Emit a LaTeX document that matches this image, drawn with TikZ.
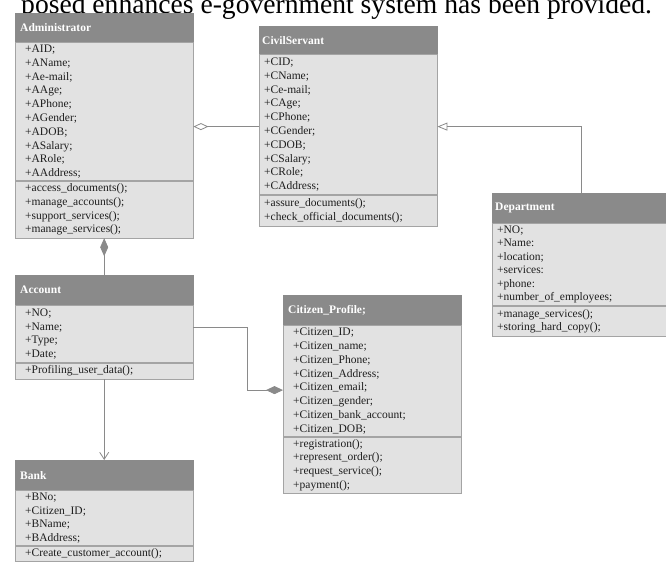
\documentclass[tikz,border=0pt]{standalone}
\usepackage{fontspec}
\setmainfont{Liberation Serif}
\usetikzlibrary{arrows.meta,calc,backgrounds}

\definecolor{hdrcol}{HTML}{8A8A8A}
\definecolor{bodycol}{HTML}{E2E2E2}
\definecolor{edgecol}{HTML}{A4A4A4}
\definecolor{shadecol}{HTML}{A0A0A0}
\definecolor{linecol}{HTML}{8A8A8A}
\definecolor{inkcol}{HTML}{1E1E1E}

\begin{document}
\begin{tikzpicture}[x=1pt,y=-1pt,
  % class title bar
  hdr/.style={draw=hdrcol, fill=hdrcol, text=white, anchor=north west,
    font=\fontsize{11.5}{13}\selectfont\bfseries, align=left,
    inner ysep=0pt, inner xsep=5pt, text width=168pt, minimum height=#1},
  hdr/.default=30pt,
  tighthdr/.style={inner xsep=3pt, text width=172pt},
  % attribute / operation compartments
  compart/.style={draw=edgecol, fill=bodycol, text=inkcol, anchor=north west,
    font=\fontsize{11.5}{13.8}\selectfont, align=left,
    inner ysep=0pt, inner xsep=10pt, text width=158pt, minimum height=#1},
  tightcompart/.style={inner xsep=5pt, text width=168pt},
  conn/.style={draw=linecol, line width=0.8pt},
  shade/.style={fill=shadecol},
]
\useasboundingbox (0,0) rectangle (666,565);
\fill[white] (0,0) rectangle (666,565);
\clip (0,0) rectangle (666,565);

% running text of the page above the figure
\node[font=\fontsize{27.6}{30}\selectfont, anchor=base west, inner sep=0pt, text=black]
  (caption) at (21,13.5) {posed enhances e-government system has been provided.};

% ---------- Administrator ----------
\node[hdr=29pt] (adm) at (15,13) {Administrator};
\node[compart=138pt] (admA) at (adm.south west)
  {+AID;\\+AName;\\+Ae-mail;\\+AAge;\\+APhone;\\+AGender;\\+ADOB;\\+ASalary;\\+ARole;\\+AAddress;};
\node[compart=57pt] (admM) at (admA.south west)
  {+access\_documents();\\+manage\_accounts();\\+support\_services();\\+manage\_services();};

% ---------- CivilServant ----------
\node[hdr=28pt, tighthdr] (cs) at (259,26) {CivilServant};
\node[compart=140pt, tightcompart] (csA) at (cs.south west)
  {+CID;\\+CName;\\+Ce-mail;\\+CAge;\\+CPhone;\\+CGender;\\+CDOB;\\+CSalary;\\+CRole;\\+CAddress;};
\node[compart=31pt, tightcompart] (csM) at (csA.south west)
  {+assure\_documents();\\+check\_official\_documents();};

% ---------- Department ----------
\node[hdr=30pt, tighthdr] (dept) at (492,193) {Department};
\node[compart=82pt, tightcompart, font=\fontsize{11.5}{13.5}\selectfont] (deptA) at (dept.south west)
  {+NO;\\+Name:\\+location;\\+services:\\+phone:\\+number\_of\_employees;};
\node[compart=30pt, tightcompart, font=\fontsize{11.5}{13.5}\selectfont] (deptM) at (deptA.south west)
  {+manage\_services();\\+storing\_hard\_copy();};

% ---------- Account ----------
\node[hdr=30pt] (acc) at (15,275) {Account};
\node[compart=57pt] (accA) at (acc.south west)
  {+NO;\\+Name;\\+Type;\\+Date;};
\node[compart=16pt] (accM) at (accA.south west)
  {+Profiling\_user\_data();};

% ---------- Citizen_Profile ----------
\node[hdr=30pt] (cp) at (283,295) {Citizen\_Profile;};
\node[compart=111pt] (cpA) at (cp.south west)
  {+Citizen\_ID;\\+Citizen\_name;\\+Citizen\_Phone;\\+Citizen\_Address;\\+Citizen\_email;\\+Citizen\_gender;\\+Citizen\_bank\_account;\\+Citizen\_DOB;};
\node[compart=56pt] (cpM) at (cpA.south west)
  {+registration();\\+represent\_order();\\+request\_service();\\+payment();};

% ---------- Bank ----------
\node[hdr=30pt] (bank) at (15,460) {Bank};
\node[compart=55pt] (bankA) at (bank.south west)
  {+BNo;\\+Citizen\_ID;\\+BName;\\+BAddress;};
\node[compart=15pt] (bankM) at (bankA.south west)
  {+Create\_customer\_account();};

% soft drop shadows behind every class box
\begin{scope}[on background layer]
  \foreach \top/\bot in {adm/admM, cs/csM, dept/deptM, acc/accM, cp/cpM, bank/bankM}
    \fill[shade] ($(\top.north west)+(2,2)$) rectangle ($(\bot.south east)+(2,2)$);
\end{scope}

% ---------- relations ----------
% CivilServant aggregated by Administrator
\draw[conn, -{Diamond[open, length=15pt, width=7pt, line width=0.8pt]}]
  ([yshift=-2pt]csA.west) -- ([yshift=-2pt]csA.west -| admA.east);
% Department generalises to CivilServant
\draw[conn, -{Triangle[open, length=10pt, width=8pt, line width=0.8pt]}]
  (dept.north) |- ([yshift=-2pt]csA.east);
% Account composed into Administrator
\draw[conn, -{Diamond[length=18pt, width=8pt]}] (acc.north) -- (admM.south);
% Account composed into Citizen_Profile
\draw[conn, -{Diamond[length=17pt, width=8pt]}]
  ([yshift=6.5pt]accA.east) -- ++(54,0) |- ([yshift=-9pt]cpA.west);
% Account to Bank
\draw[conn, -{Straight Barb[length=7pt, width=9pt]}] (accM.south) -- (bank.north);
\end{tikzpicture}
\end{document}
